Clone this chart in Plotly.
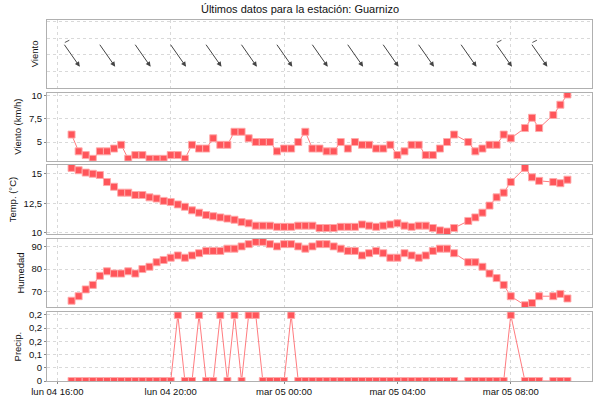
import math
import pandas as pd
import plotly.graph_objects as go
from plotly.subplots import make_subplots

station = 'Guarnizo'

# readings every 15 minutes, a few of them missing
start = '2019-03-04 16:30'
end = '2019-03-05 10:00'
missing = ['2019-03-05 06:15', '2019-03-05 08:15', '2019-03-05 09:15']

wind_speed = [5.8, 4.0, 3.6, 3.2, 4.0, 4.0, 4.3, 4.7, 3.2, 3.6, 3.6, 3.2, 3.2, 3.2, 3.6, 3.6, 3.2, 4.7,
              4.3, 4.3, 5.4, 4.7, 4.7, 6.1, 6.1, 5.4, 5.0, 5.0, 5.0, 4.0, 4.3, 4.3, 5.0, 6.1, 4.3, 4.3,
              4.0, 4.0, 5.0, 4.3, 5.0, 4.7, 4.7, 4.3, 4.3, 4.7, 3.6, 4.0, 4.7, 4.7, 3.6, 3.6, 4.3, 5.0, 5.8,
              5.0, 4.0, 4.3, 4.7, 4.7, 5.8, 5.4,
              6.5, 7.6, 6.5,
              7.9, 9.0, 10.1]
temperature = [15.5, 15.3, 15.1, 15.0, 14.9, 14.3, 13.9, 13.4, 13.4, 13.2, 13.2, 13.0, 12.9, 12.7, 12.6, 12.4,
               12.2, 11.9, 11.7, 11.5, 11.4, 11.3, 11.2, 11.1, 10.9, 10.8, 10.6, 10.6, 10.6, 10.5, 10.5, 10.5,
               10.6, 10.6, 10.6, 10.4,
               10.4, 10.4, 10.5, 10.5, 10.5, 10.7, 10.6, 10.5, 10.6, 10.7, 10.8, 10.6, 10.5, 10.6, 10.6, 10.4,
               10.2, 10.1, 10.4,
               11.0, 11.3, 11.7, 12.3, 13.0, 13.4, 14.3,
               15.5, 14.7, 14.4,
               14.3, 14.2, 14.5]
humidity = [66, 68, 71, 73, 77, 79, 78, 78, 79, 78, 80, 81, 83, 84, 85, 86, 85, 86, 87, 88, 88, 88,
            89, 89, 90, 91, 92, 92, 91, 90, 91, 91, 90, 89, 90, 91,
            91, 90, 89, 88, 88, 86, 87, 88, 87, 85, 85, 87, 86, 85, 86, 88, 89, 89, 87,
            83, 83, 81, 78, 76, 73, 68,
            64, 65, 68,
            68, 69, 67]
precip = [0, 0, 0, 0, 0, 0, 0, 0, 0, 0, 0, 0, 0, 0, 0,
          0.25, 0, 0, 0.25, 0, 0, 0.25, 0, 0.25, 0, 0.25, 0.25, 0, 0, 0, 0, 0.25,
          0, 0, 0, 0, 0, 0, 0, 0, 0, 0, 0, 0, 0, 0, 0, 0, 0, 0, 0, 0, 0, 0, 0,
          0, 0, 0, 0, 0, 0, 0.25,
          0, 0, 0,
          0, 0, 0]

# wind direction (degrees, where it blows from)
arrow_times = ['2019-03-04 16:30', '2019-03-04 17:45', '2019-03-04 19:00', '2019-03-04 20:15',
               '2019-03-04 21:30', '2019-03-04 22:45', '2019-03-05 00:00', '2019-03-05 01:15',
               '2019-03-05 02:30', '2019-03-05 03:45', '2019-03-05 05:00', '2019-03-05 06:30',
               '2019-03-05 07:45', '2019-03-05 09:00']
wind_dir = [325, 325, 325, 325, 325, 325, 325, 325, 325, 325, 325, 325, 325, 325]
barbs = [1, 0, 0, 0, 0, 0, 0, 0, 0, 0, 0, 0, 1, 1]

tick_times = ['2019-03-04 16:00', '2019-03-04 20:00', '2019-03-05 00:00', '2019-03-05 04:00', '2019-03-05 08:00']
tick_text = ['lun 04 16:00', 'lun 04 20:00', 'mar 05 00:00', 'mar 05 04:00', 'mar 05 08:00']

times = pd.date_range(start, end, freq='15min')
times = times[~times.isin(pd.to_datetime(missing))]

red = 'rgb(255,85,90)'
grid = '#d9d9d9'
border = '#b0b0b0'
font = 'Liberation Sans, Arial, sans-serif'

fig = make_subplots(rows=5, cols=1, shared_xaxes=True)

series = [(wind_speed, 2), (temperature, 3), (humidity, 4), (precip, 5)]
for vals, row in series:
    fig.add_trace(go.Scatter(x=times, y=vals, mode='lines+markers',
                             line=dict(color='rgba(255,100,105,0.85)', width=1),
                             marker=dict(symbol='square', size=7, color=red,
                                         line=dict(color='rgba(255,170,170,0.9)', width=1)),
                             showlegend=False), row=row, col=1)

# invisible trace so the top panel has data
fig.add_trace(go.Scatter(x=arrow_times, y=[2] * len(arrow_times), mode='markers',
                         marker=dict(opacity=0), showlegend=False, hoverinfo='skip'), row=1, col=1)

# wind direction arrows
L = 28.7
for t, d, b in zip(arrow_times, wind_dir, barbs):
    to = math.radians((d + 180) % 360)
    dx = L * math.sin(to)
    dy = -L * math.cos(to)   # screen, down positive
    fig.add_annotation(x=t, y=2, xref='x', yref='y', text='', showarrow=True,
                       ax=-dx, ay=-dy, xshift=dx / 2, yshift=-dy / 2,
                       arrowhead=2, arrowsize=1, arrowwidth=1, arrowcolor='#444')
    if b:
        fig.add_annotation(x=t, y=2, xref='x', yref='y', text='', showarrow=True,
                           ax=-6, ay=3, xshift=-dx / 2 + 6, yshift=dy / 2 + 3,
                           arrowhead=0, arrowwidth=1, arrowcolor='#555')

domains = [[0.8086, 0.9986], [0.6086, 0.7964], [0.4047, 0.5975], [0.2036, 0.3931], [0.0, 0.1898]]
titles = ['Viento', 'Viento (km/h)', 'Temp. (°C)', 'Humedad', 'Precip.']
for i in range(5):
    n = '' if i == 0 else str(i + 1)
    fig.layout['yaxis' + n].update(domain=domains[i], automargin=False,
                                   title=dict(text=titles[i], font=dict(size=9.5, color='#111'), standoff=5),
                                   showline=True, mirror=True, linecolor=border, linewidth=1,
                                   showgrid=True, gridcolor=grid, griddash='3px,3px', gridwidth=1,
                                   zeroline=False, ticks='outside', ticklen=2, tickcolor='#888',
                                   tickfont=dict(size=9.5, color='#111'))
    fig.layout['xaxis' + n].update(range=['2019-03-04 15:38', '2019-03-05 10:52'], automargin=False,
                                   tickvals=tick_times, ticktext=tick_text,
                                   showline=True, mirror=True, linecolor=border, linewidth=1,
                                   showgrid=True, gridcolor=grid, griddash='3px,3px', gridwidth=1,
                                   zeroline=False, ticks='outside' if i == 4 else '', ticklen=2,
                                   tickcolor='#888', showticklabels=(i == 4),
                                   tickfont=dict(size=9.5, color='#111'))

fig.update_layout(yaxis=dict(range=[0, 4.13], tickvals=[1, 2, 3, 4], showticklabels=False, ticks=''),
                  yaxis2=dict(range=[3.0, 10.29], tickvals=[5, 7.5, 10]),
                  yaxis3=dict(range=[9.85, 15.77], tickvals=[10, 12.5, 15]),
                  yaxis4=dict(range=[63.1, 93.4], tickvals=[70, 80, 90]),
                  yaxis5=dict(range=[0, 0.26], tickvals=[0, 0.05, 0.1, 0.15, 0.2, 0.25],
                              ticktext=['0', '0', '0,1', '0,2', '0,2', '0,2']))

fig.update_layout(title=dict(text=f'Últimos datos para la estación: {station}',
                             x=0.5, xref='container', y=1 - 9 / 400, yref='container', yanchor='middle',
                             font=dict(size=11, color='#111')),
                  width=600, height=400, separators=', ',
                  margin=dict(l=47, r=8, t=19, b=19),
                  plot_bgcolor='white', paper_bgcolor='white',
                  font=dict(family=font, color='#111'))

# page body has a default 8px margin, drop it so the figure sits at 0,0
fig.write_html('out.html', config={'displayModeBar': False},
               post_script="document.body.style.margin='0px';")
